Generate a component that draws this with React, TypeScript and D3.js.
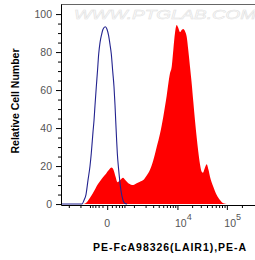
import React, { useEffect, useRef } from 'react';
import * as d3 from 'd3';

// control (isotype) histogram - blue line
const blueX = [-3000, -903, -788, -683, -586, -498, -446, -381, -345, -311, -269, -233, -198, -162, -124, -88, -38, -4, 25, 57, 86, 119, 152, 179, 198, 221, 245, 282, 321, 367, 442, 524, 614];
const blueY = [0, 0, 2, 5, 12.6, 20, 26.7, 38, 44, 52, 61.7, 70, 79, 85, 89, 92, 93.3, 92, 89, 84, 79, 70, 61.7, 52, 44, 35, 26.7, 19, 12.6, 7, 2, 0.3, 0];

// stained sample histogram - red fill
const redX = [-788, -683, -541, -381, -218, -112, -23, 36, 90, 139, 192, 251, 332, 442, 546, 677, 821, 959, 1191, 1453, 1759, 2126, 2541, 3024, 3604, 4261, 5026, 5944, 6983, 7584, 8193, 8891, 9646, 10264, 11290, 12124, 13202, 14307, 15502, 16714, 18103, 19605, 21131, 22878, 24768, 26686, 28884, 31261, 33200, 35595, 39423, 42852, 45932, 53506, 62607, 72903, 84884, 100670];
const redY = [0, 0.5, 2.5, 5.8, 10.5, 13.5, 16, 18, 19.2, 18, 14.5, 11.5, 12.5, 13.8, 12.5, 10.9, 10.2, 10, 10.9, 11.7, 12.6, 15, 18, 23, 30, 37, 46, 57, 68.8, 72.3, 81, 90, 94.2, 93, 90.5, 91.5, 92.2, 91, 88, 81, 72.3, 63.5, 54, 44, 35, 27.5, 21, 17, 16.5, 18.5, 21, 18, 14.4, 9.1, 4.7, 2.1, 0.4, 0];

const yMajor = [0, 20, 40, 60, 80, 100];
const xMajor = [0, 10000, 100000];
const xMajorBase = ['0', '10', '10'];
const xMajorExp = ['', '4', '5'];
const xMinor = [-2000, -1000, -500, -400, -300, -200, -100, 100, 200, 300, 400, 500, 1000, 2000, 3000, 4000, 5000, 6000, 7000, 8000, 9000, 20000, 30000, 40000, 50000, 60000, 70000, 80000, 90000, 200000];

const FONT = "'Liberation Sans', Arial, sans-serif";

export default function App() {
  const ref = useRef<SVGSVGElement>(null);

  useEffect(() => {
    const svg = d3.select(ref.current);
    svg.selectAll('*').remove();

    const x = d3.scaleSymlog().constant(415).domain([-3040, 400000]).range([61, 257]);
    const y = d3.scaleLinear().domain([-0.5, 105.3]).range([205, 4]);

    // watermark
    svg
      .append('text')
      .attr('x', 74)
      .attr('y', 18.5)
      .attr('font-family', FONT)
      .attr('font-style', 'italic')
      .attr('font-size', 12)
      .attr('textLength', 182)
      .attr('lengthAdjust', 'spacingAndGlyphs')
      .attr('fill', 'none')
      .attr('stroke', '#e2e2e2')
      .attr('stroke-width', 0.5)
      .text('WWW.PTGLAB.COM');

    // red histogram
    const red = redX.map((v, i) => [v, redY[i]] as [number, number]);
    const area = d3
      .area<[number, number]>()
      .x((d) => x(d[0]))
      .y0(y(0))
      .y1((d) => y(d[1]))
      .curve(d3.curveMonotoneX);
    svg.append('path').datum(red).attr('d', area).attr('fill', '#ff0000');

    // blue histogram
    const blue = blueX.map((v, i) => [v, blueY[i]] as [number, number]);
    const line = d3
      .line<[number, number]>()
      .x((d) => x(d[0]))
      .y((d) => y(d[1]))
      .curve(d3.curveMonotoneX);
    svg
      .append('path')
      .datum(blue)
      .attr('d', line)
      .attr('fill', 'none')
      .attr('stroke', '#23238f')
      .attr('stroke-width', 1.1);

    // top border
    svg
      .append('line')
      .attr('x1', 61)
      .attr('x2', 255)
      .attr('y1', 4.5)
      .attr('y2', 4.5)
      .attr('stroke', '#666');

    // y axis
    const yMinor = d3.range(0, 101, 5).filter((v) => v % 20 !== 0);
    svg
      .append('g')
      .attr('transform', 'translate(61,0)')
      .call(d3.axisLeft(y).tickValues(yMinor).tickSize(3).tickSizeOuter(0).tickFormat(() => ''))
      .call((g) => g.select('.domain').remove());
    const yAxis = svg
      .append('g')
      .attr('transform', 'translate(61,0)')
      .call(d3.axisLeft(y).tickValues(yMajor).tickSize(5).tickSizeOuter(0).tickPadding(4));
    yAxis.selectAll('text').attr('font-family', FONT).attr('font-size', 10.5).attr('fill', '#555');

    // x axis
    svg
      .append('g')
      .attr('transform', 'translate(0,205)')
      .call(d3.axisBottom(x).tickValues(xMinor).tickSize(3).tickSizeOuter(0).tickFormat(() => ''))
      .call((g) => g.select('.domain').remove());
    svg
      .append('g')
      .attr('transform', 'translate(0,205)')
      .call(d3.axisBottom(x).tickValues(xMajor).tickSize(5).tickSizeOuter(0).tickFormat(() => ''));

    const lab = svg
      .selectAll('.xlab')
      .data(xMajor)
      .enter()
      .append('text')
      .attr('class', 'xlab')
      .attr('font-family', FONT)
      .attr('font-size', 10.5)
      .attr('fill', '#555')
      .attr('y', 227)
      .attr('x', (d) => (d === 0 ? x(d) : x(d) - 2.5))
      .attr('text-anchor', (d) => (d === 0 ? 'middle' : 'start'));
    lab.append('tspan').text((d, i) => xMajorBase[i]);
    lab
      .append('tspan')
      .attr('dy', -7)
      .attr('font-size', 9)
      .text((d, i) => xMajorExp[i]);

    // titles
    svg
      .append('text')
      .attr('x', 93)
      .attr('y', 250.5)
      .attr('font-family', FONT)
      .attr('font-weight', 'bold')
      .attr('font-size', 10.5)
      .attr('textLength', 153)
      .attr('lengthAdjust', 'spacing')
      .text('PE-FcA98326(LAIR1),PE-A');

    svg
      .append('text')
      .attr('transform', 'translate(18.5,101) rotate(-90)')
      .attr('text-anchor', 'middle')
      .attr('font-family', FONT)
      .attr('font-weight', 'bold')
      .attr('font-size', 10.5)
      .text('Relative Cell Number');
  }, []);

  return (
    <svg
      ref={ref}
      width={255}
      height={260}
      style={{ position: 'absolute', left: 0, top: 0, background: '#fff' }}
    />
  );
}
